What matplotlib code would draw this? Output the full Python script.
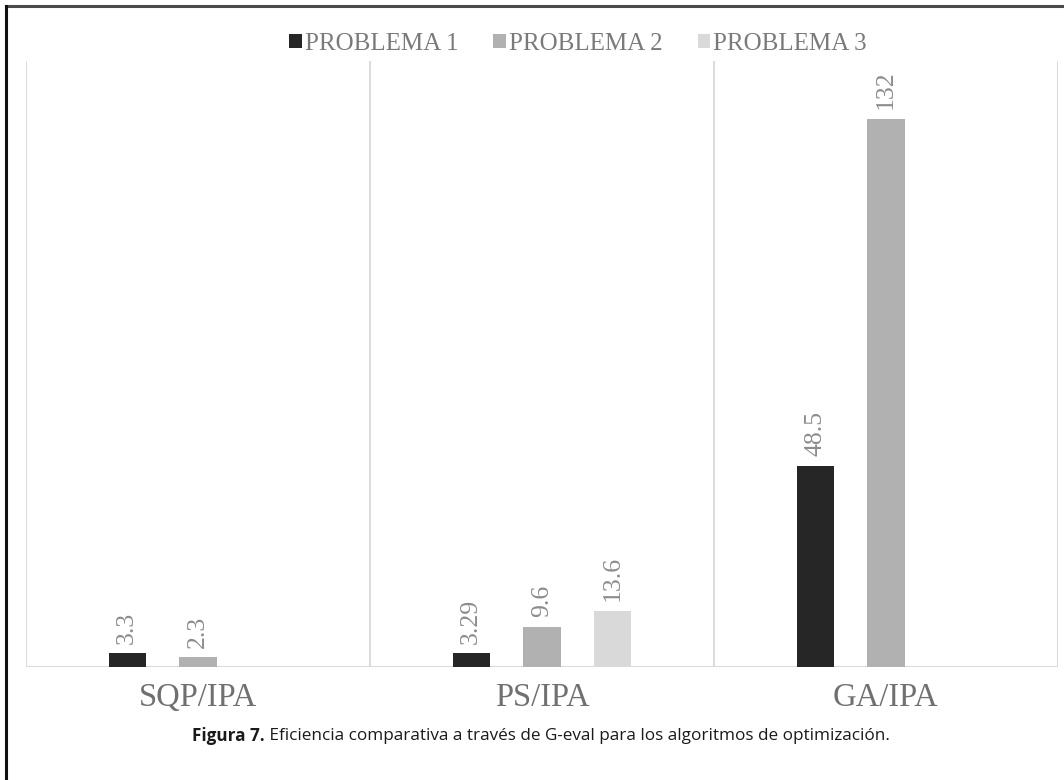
import matplotlib
matplotlib.use("Agg")
import matplotlib.pyplot as plt
from matplotlib.lines import Line2D
import numpy as np

categories = ["SQP/IPA", "PS/IPA", "GA/IPA"]
series_names = ["PROBLEMA 1", "PROBLEMA 2", "PROBLEMA 3"]
problema_1 = [3.3, 3.29, 48.5]
problema_2 = [2.3, 9.6, 132]
problema_3 = [None, 13.6, None]
value_labels = [["3.3", "3.29", "48.5"], ["2.3", "9.6", "132"], [None, "13.6", None]]
caption_bold = "Figura 7."
caption_text = " Eficiencia comparativa a través de G-eval para los algoritmos de optimización."

colors = ["#262626", "#b1b1b1", "#d9d9d9"]
serif = ["Liberation Serif", "DejaVu Serif"]

fig = plt.figure(figsize=(10.64, 7.8), dpi=100)
ax = fig.add_axes([26 / 1064, 1 - 667 / 780, 1032 / 1064, 606 / 780])

x = np.arange(len(categories))
width = 0.108
step = 0.206
series = [problema_1, problema_2, problema_3]
handles = []
for i, (vals, name, col) in enumerate(zip(series, series_names, colors)):
    pos = x + (i - 1) * step
    heights = [v if v is not None else 0 for v in vals]
    bars = ax.bar(pos, heights, width=width, color=col, label=name, zorder=3)
    handles.append(bars)
    for j, (v, lab) in enumerate(zip(vals, value_labels[i])):
        if v is None:
            continue
        ax.annotate(lab, (pos[j], v), xytext=(0, 7), textcoords="offset points",
                    rotation=90, ha="center", va="bottom", fontsize=18.5,
                    color="#8c8c8c", family=serif)

ax.set_xlim(-0.5, 2.5)
ax.set_ylim(0, 146)
for s in ax.spines.values():
    s.set_visible(False)
ax.axhline(0, color="#d9d9d9", lw=1.5, zorder=2)
for b in [-0.5, 0.5, 1.5, 2.5]:
    ax.axvline(b, color="#dcdcdc", lw=1.5, zorder=1)
ax.set_yticks([])
ax.set_xticks(x)
ax.set_xticklabels(categories, fontsize=23.5, color="#707070", family=serif)
ax.tick_params(axis="x", length=0, pad=11)

leg = fig.legend(handles=handles, labels=series_names, loc="center",
                 bbox_to_anchor=(578 / 1064, 1 - 44 / 780), ncol=3, frameon=False,
                 prop={"family": serif, "size": 18}, labelcolor="#7a7a7a",
                 handlelength=0.5, handleheight=0.5, handletextpad=0.12,
                 columnspacing=1.4)

# caption with bold lead-in
cap_y = 1 - 736 / 780
t1 = fig.text(0.5, cap_y, caption_bold, fontsize=12.3, fontweight="bold",
              family=["Open Sans", "DejaVu Sans"], ha="left", va="center", color="#1a1a1a")
t2 = fig.text(0.5, cap_y, caption_text, fontsize=12.3,
              family=["Open Sans", "DejaVu Sans"], ha="left", va="center", color="#1a1a1a")
fig.canvas.draw()
r = fig.canvas.get_renderer()
w1 = t1.get_window_extent(r).width
w2 = t2.get_window_extent(r).width
x0 = 541 - (w1 + w2) / 2
t1.set_x(x0 / 1064)
t2.set_x((x0 + w1) / 1064)

# page frame
fig.add_artist(Line2D([6 / 1064, 1.0], [1 - 6 / 780] * 2, transform=fig.transFigure,
                      color="#4a4a4a", lw=2.2))
fig.add_artist(Line2D([6 / 1064] * 2, [0, 1 - 6 / 780], transform=fig.transFigure,
                      color="#111111", lw=2.2))

fig.savefig("out.png", dpi=100)
